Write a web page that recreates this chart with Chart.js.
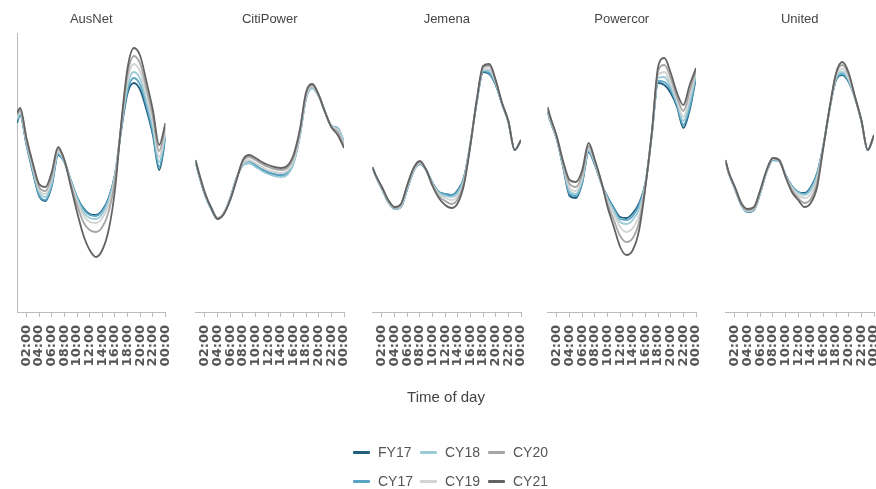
<!DOCTYPE html>
<html>
<head>
<meta charset="utf-8">
<script src="https://cdn.jsdelivr.net/npm/chart.js@4.4.1/dist/chart.umd.min.js"></script>
<style>
html,body{margin:0;padding:0;background:#fff;}
#wrap{position:relative;width:876px;height:489px;overflow:hidden;background:#fff;}
#wrap canvas{position:absolute;left:0;top:0;}
#xtitle{position:absolute;left:346px;width:200px;top:388px;text-align:center;font:15px 'Liberation Sans',Arial,sans-serif;color:#444;}
.lg{position:absolute;height:20px;display:flex;align-items:center;font:14px 'Liberation Sans',Arial,sans-serif;color:#555;white-space:nowrap;}
.lg i{display:inline-block;width:17px;height:3px;margin-right:8px;border-radius:1px;}
</style>
</head>
<body>
<div id="wrap">
  <canvas id="c0" width="876" height="489"></canvas>
  <canvas id="c1" width="876" height="489"></canvas>
  <canvas id="c2" width="876" height="489"></canvas>
  <canvas id="c3" width="876" height="489"></canvas>
  <canvas id="c4" width="876" height="489"></canvas>
  <div id="xtitle">Time of day</div>
</div>
<script>
// Time of day (hours after midnight) for each reading
const hours = [0.5,1,2,3,4,5,6,7,8,9,10,11,12,13,14,15,16,17,18,19,20,21,22,23,24];
const tickHours = [2,4,6,8,10,12,14,16,18,20,22,24];
const tickLabels = ['02:00','04:00','06:00','08:00','10:00','12:00','14:00','16:00','18:00','20:00','22:00','00:00'];

const networks = ['AusNet','CitiPower','Jemena','Powercor','United'];
const seriesNames = ['FY17','CY17','CY18','CY19','CY20','CY21'];
const seriesColors = ['#23607f','#5aa5c4','#9ccbd8','#d3d3d3','#a5a5a5','#636363'];

// Rows follow seriesNames order: FY17, CY17, CY18, CY19, CY20, CY21
const ausNetData = [
  [75.6,78.8,66.8,56,46.4,44.4,50.4,62.8,60,52.8,46,41.6,39.2,38.8,40.8,45.6,54.8,72.8,87.6,91.6,88.8,80.8,70.8,56.8,69.6],
  [76.4,79.2,67.2,56.4,46.8,44.8,50.8,63.2,60,52.8,46,41.2,38.8,38.4,40.4,45.2,54.8,73.6,88.8,93.6,90.8,82.4,72,58,70.4],
  [77.2,79.6,67.6,57.2,48,46,52,63.6,60.4,52.4,45.2,40,37.6,37.2,39.2,44.4,54.4,74,90.8,96,93.2,84.4,74,60,71.6],
  [78,80,68.4,58,48.8,47.2,53.2,64.4,60.4,52,44.4,38.8,36,35.6,37.6,42.8,53.6,74.8,92.8,99.2,96,86.8,76,62,72.8],
  [78.8,80.8,68.8,58.8,50,48.4,54.4,65.2,60.8,51.2,42.8,36,32.8,32,34,40,52.4,75.2,95.2,102.4,99.2,89.2,78.4,64.4,74],
  [79.6,81.6,69.6,59.6,51.2,50,56,66,60.8,50.4,40,30.8,24.8,22,24.8,32.8,48.8,75.6,97.6,105.6,102.4,92,80.8,66.8,75.6]
];
const citiPowerData = [
  [60,55.2,46.8,41.2,37.2,39.6,45.6,53.6,58.8,59.6,58.4,56.8,55.6,54.8,54.4,55.2,59.6,70.4,85.6,89.6,86.4,80,74.4,73.6,68],
  [60,55.2,46.8,41.2,37.2,39.6,45.6,53.6,59.2,60,58.8,57.2,56,55.2,54.8,55.6,60,70.8,86,90,86.8,80,74.4,73.2,67.6],
  [60.4,55.6,47.2,41.6,37.2,39.6,45.6,53.6,58.8,59.6,58,56.4,55.2,54.4,54,54.8,59.2,70,85.6,89.6,86.4,80,74.4,73.6,68.4],
  [60.4,55.6,47.2,41.6,37.6,39.6,45.2,53.2,59.6,60.8,59.6,58,56.8,56,55.6,56.4,60.4,71.2,86.4,90.4,86.8,80,74.4,72.8,67.2],
  [60.8,56,47.6,41.6,37.6,39.6,45.2,53.2,60.4,62,60.8,59.2,58,57.2,56.8,57.6,61.6,72,87.2,90.8,86.8,80,74,72,66.4],
  [60.8,56,47.6,41.6,37.2,39.2,44.8,52.8,60.8,62.8,61.6,60,58.8,58,57.6,58.4,62.8,72.8,88,91.2,86.8,80,74,70.8,65.6]
];
const jemenaData = [
  [57.6,54.4,49.2,44,41.2,42,49.2,56.4,59.2,56.8,51.6,48,47.2,46.8,48.8,54,67.6,84,96,95.2,90.8,83.2,76,64.8,68.4],
  [57.6,54.4,49.2,44,41.2,42,49.2,56.4,59.2,56.8,51.6,48,47.2,46.8,48.4,54,67.6,84,96.4,95.6,91.2,83.2,76,64.8,68.4],
  [57.6,54.4,49.2,44,41.2,42,49.6,56.4,59.6,56.8,51.2,47.6,46.4,46,47.6,53.2,67.6,84.4,96.8,96.4,91.6,83.2,76,64.8,68.4],
  [58,54.8,49.6,44.4,41.6,42.4,50,56.8,59.6,56.8,51.2,47.2,45.6,44.8,46.4,52.8,67.2,84.4,97.2,97.2,92,83.6,76,64.8,68.4],
  [58,54.8,49.6,44.4,41.6,42.8,50.4,57.2,60,56.8,50.8,46.4,44.4,43.2,45.2,52,67.2,84.8,98,98.4,92.4,83.6,76.4,64.8,68.8],
  [58,54.8,50,44.8,42,43.2,50.8,57.6,60.4,56.8,50.4,45.6,42.8,41.6,43.6,51.2,66.8,84.8,98.4,99.2,92.8,83.6,76.4,64.8,68.8]
];
const powercorData = [
  [80,76,68.8,57.6,46.4,45.6,51.6,64,58.8,51.6,46,41.6,38,37.6,39.6,43.6,51.6,70.8,91.6,90.8,87.6,82,73.6,80.8,93.6],
  [80.4,76.4,68.8,58,47.2,46.4,52,64.4,59.2,51.6,45.6,41.2,37.2,36.8,38.4,42.8,51.6,70.8,92.4,92,88.8,82.8,74.8,82,94.4],
  [80.8,76.4,69.2,58.4,48.4,47.2,52.8,64.8,59.6,51.6,45.2,40.4,36,35.2,36.8,41.2,51.2,70.8,93.6,94,90,83.6,76.4,84,95.2],
  [81.2,76.8,69.2,58.8,49.6,48.4,54,65.6,60,52,44.4,39.2,34,32,33.6,38.8,50.8,71.2,94.8,96,91.6,84.8,78,86,96],
  [81.6,77.2,69.6,59.2,51.2,50,55.2,66.4,60.4,52,43.2,36.8,30.4,28,29.6,36,50.4,71.2,96.4,98.8,93.6,86,80.4,88.4,96.8],
  [82,77.6,70,60,52.8,52,56.8,67.6,60.8,52.4,42,34,26,22.8,24.8,32.8,50,71.6,98,101.6,95.6,87.6,82.8,90.8,97.6]
];
const unitedData = [
  [60.4,55.6,49.2,42.8,40,40.8,47.6,56,60.8,60.4,54.8,50.4,48,47.6,50,55.6,66.8,81.6,92.8,94.8,92,85.6,76.4,64.8,70.4],
  [60.4,55.6,49.2,42.8,40,40.8,47.6,56,60.8,60.4,54.8,50.4,48,47.2,49.6,55.2,66.8,81.6,93.2,95.2,92.4,85.6,76.4,64.8,70.4],
  [60.4,55.6,49.2,42.8,40.4,41.2,48,56,61.2,60.4,54.8,50,47.6,46.8,48.8,54.4,66.8,81.6,93.6,96,92.8,85.6,76.4,64.8,70.4],
  [60.4,55.6,49.6,43.2,40.4,41.2,48,56.4,61.2,60.8,54.4,49.6,46.8,45.6,47.2,53.2,66.4,81.6,94.4,97.2,93.6,85.6,76.4,64.8,70.4],
  [60.8,56,49.6,43.2,40.8,41.6,48.4,56.4,61.6,60.8,54.4,48.8,45.6,43.6,45.2,51.6,66.4,82,95.2,98.8,94.8,86,76.8,64.8,70.8],
  [60.8,56,50,43.6,41.2,42,48.8,56.8,61.6,60.8,54,48,44.8,42,43.6,50,66,82,95.6,100,95.6,86,76.8,64.8,70.8]
];
const panelData = [ausNetData, citiPowerData, jemenaData, powercorData, unitedData];

// layout (pixels)
const panelLeft = [17, 195.5, 372.5, 547.5, 725.5];
const panelWidth = 148.5;
const yMin = 0, yMax = 111.6;

panelData.forEach((rows, p) => {
  const datasets = rows.map((vals, i) => ({
    label: seriesNames[i],
    data: hours.map((h, k) => ({x: h, y: vals[k]})),
    borderColor: seriesColors[i],
    backgroundColor: seriesColors[i],
    borderWidth: 1.8,
    pointRadius: 0,
    fill: false,
    cubicInterpolationMode: 'monotone',
    order: 5 - i
  }));
  new Chart(document.getElementById('c' + p), {
    type: 'line',
    data: {datasets},
    options: {
      responsive: false,
      animation: false,
      devicePixelRatio: 1,
      layout: {padding: {left: panelLeft[p], right: 876 - panelLeft[p] - panelWidth, top: 12, bottom: 107}},
      plugins: {
        legend: {display: false},
        tooltip: {enabled: false},
        title: {display: true, text: networks[p], color: '#444',
          font: {family: "'Liberation Sans', Arial, sans-serif", size: 13, weight: 'normal'},
          padding: {top: 0, bottom: 5.4}}
      },
      scales: {
        x: {
          type: 'linear', min: 0.5, max: 24,
          afterBuildTicks: ax => { ax.ticks = tickHours.map(v => ({value: v})); },
          afterFit: s => { s.height = 70; s.paddingLeft = 0; s.paddingRight = 0; },
          ticks: {
            autoSkip: false, maxRotation: 90, minRotation: 90, padding: 8, color: '#555',
            font: {family: "'DejaVu Sans', sans-serif", size: 13, weight: 'bold'},
            callback: v => tickLabels[tickHours.indexOf(v)]
          },
          grid: {drawOnChartArea: false, color: '#bbb', tickLength: 5},
          border: {display: true, color: '#bbb'}
        },
        y: {
          display: p === 0,
          min: yMin, max: yMax,
          ticks: {display: false},
          grid: {display: false, drawTicks: false},
          border: {display: true, color: '#bbb'}
        }
      }
    }
  });
});

// legend (column-major like the reference)
const wrap = document.getElementById('wrap');
const legendCols = [353, 420, 488];
const legendRows = [442, 471];
seriesNames.forEach((n, i) => {
  const d = document.createElement('div');
  d.className = 'lg';
  d.style.left = legendCols[Math.floor(i / 2)] + 'px';
  d.style.top = legendRows[i % 2] + 'px';
  d.innerHTML = '<i style="background:' + seriesColors[i] + '"></i>' + n;
  wrap.appendChild(d);
});
</script>
</body>
</html>
